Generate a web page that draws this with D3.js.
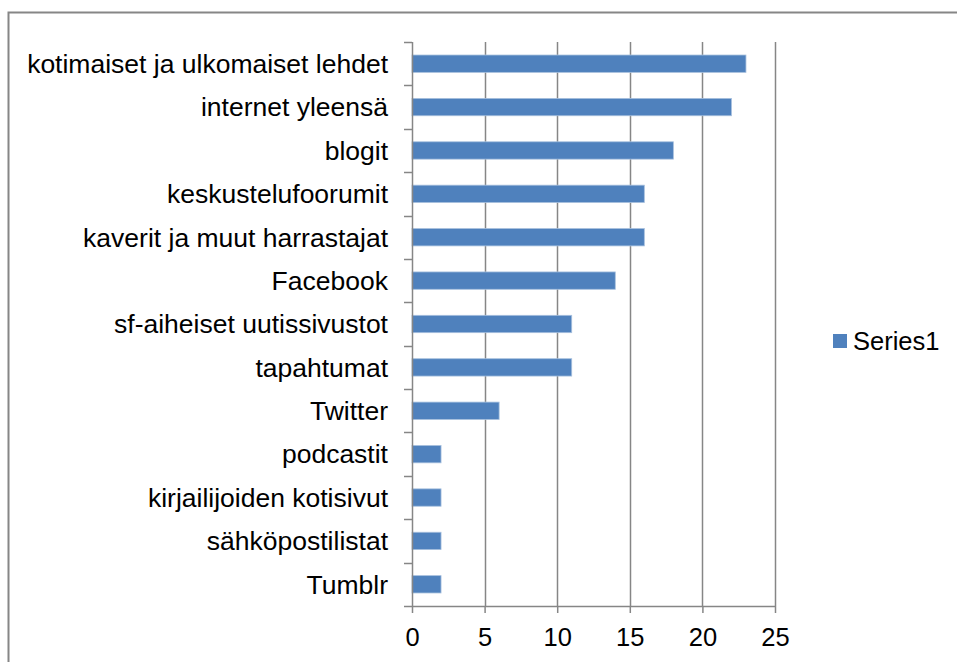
<!DOCTYPE html>
<html>
<head>
<meta charset="utf-8">
<script src="https://cdn.jsdelivr.net/npm/d3@7"></script>
<style>
  body { margin: 0; background: #fff; }
  svg text { font-family: "Liberation Sans", Arial, sans-serif; fill: #000; }
</style>
</head>
<body>
<div id="chart"></div>
<script>
// Categories from top to bottom, as in the chart
var categories = [
    "kotimaiset ja ulkomaiset lehdet",
    "internet yleensä",
    "blogit",
    "keskustelufoorumit",
    "kaverit ja muut harrastajat",
    "Facebook",
    "sf-aiheiset uutissivustot",
    "tapahtumat",
    "Twitter",
    "podcastit",
    "kirjailijoiden kotisivut",
    "sähköpostilistat",
    "Tumblr"
];
var values = [23, 22, 18, 16, 16, 14, 11, 11, 6, 2, 2, 2, 2];
var xTicks = [0, 5, 10, 15, 20, 25];
var seriesName = "Series1";

var width  = 957;
var height = 662;
var margin = { top: 42, right: 182, bottom: 56, left: 412 };
var labelSize = 26.5;
var tickSize = 25.5;

var svg = d3.select("div#chart")
            .append("svg")
            .attr("width", width)
            .attr("height", height);

// chart frame (only top and left edges show in the picture)
svg.append("rect")
   .attr("x", 8.5).attr("y", 12.5)
   .attr("width", width + 10).attr("height", height + 10)
   .attr("fill", "none")
   .attr("stroke", "#868686")
   .attr("stroke-width", 2);

var x = d3.scaleLinear()
          .domain([0, 25])
          .range([margin.left, width - margin.right]);

var y = d3.scaleBand()
          .domain(categories)
          .range([margin.top, height - margin.bottom])
          .padding(0);

// Vertical gridlines
svg.append("g")
   .attr("class", "grid")
   .selectAll("line")
   .data(xTicks.slice(1))
   .enter()
   .append("line")
   .attr("x1", function(d) { return Math.round(x(d)) + 0.5; })
   .attr("x2", function(d) { return Math.round(x(d)) + 0.5; })
   .attr("y1", margin.top)
   .attr("y2", height - margin.bottom)
   .attr("stroke", "#868686")
   .attr("stroke-width", 1.5);

// Bars
var barH = y.bandwidth() * 0.4;
svg.append("g")
   .attr("class", "bars")
   .selectAll("rect")
   .data(values)
   .enter()
   .append("rect")
   .attr("x", x(0))
   .attr("y", function(d, i) { return y(categories[i]) + (y.bandwidth() - barH) / 2; })
   .attr("width", function(d) { return x(d) - x(0); })
   .attr("height", barH)
   .attr("fill", "#4F81BD")
   .attr("stroke", "#A7C0DE")
   .attr("stroke-width", 0.8);

// X axis
var xAxis = svg.append("g")
   .attr("transform", "translate(0," + (height - margin.bottom) + ")")
   .call(d3.axisBottom(x).tickValues(xTicks).tickSize(7).tickPadding(15).tickSizeOuter(0));

// Y axis: ticks sit on band edges, labels centred in bands
var yEdges = categories.map(function(c) { return y(c); }).concat([height - margin.bottom]);
var yAxis = svg.append("g").attr("class", "yaxis");
yAxis.append("line")
     .attr("x1", margin.left + 0.5).attr("x2", margin.left + 0.5)
     .attr("y1", margin.top).attr("y2", height - margin.bottom);
yAxis.selectAll("line.tick")
     .data(yEdges)
     .enter()
     .append("line")
     .attr("class", "tick")
     .attr("x1", margin.left - 8).attr("x2", margin.left)
     .attr("y1", function(d) { return Math.round(d) + 0.5; })
     .attr("y2", function(d) { return Math.round(d) + 0.5; });
yAxis.selectAll("line").attr("stroke", "#868686").attr("stroke-width", 1.5);
yAxis.selectAll("text")
     .data(categories)
     .enter()
     .append("text")
     .attr("x", margin.left - 24)
     .attr("y", function(d) { return y(d) + y.bandwidth() / 2; })
     .attr("dy", "0.35em")
     .attr("text-anchor", "end")
     .style("font-size", labelSize + "px")
     .text(function(d) { return d; });

xAxis.select(".domain").attr("stroke", "#868686").attr("stroke-width", 1.5);
xAxis.selectAll(".tick line").attr("stroke", "#868686").attr("stroke-width", 1.5);
xAxis.selectAll(".tick text")
     .style("font-size", tickSize + "px")
     .attr("fill", "#000")
     .style("font-family", "'Liberation Sans', Arial, sans-serif");

// Legend
var legend = svg.append("g")
   .attr("transform", "translate(833,341)");
legend.append("rect")
   .attr("x", 0).attr("y", -7)
   .attr("width", 14).attr("height", 14)
   .attr("fill", "#4F81BD");
legend.append("text")
   .attr("x", 20)
   .attr("dy", "0.35em")
   .style("font-size", tickSize + "px")
   .text(seriesName);
</script>
</body>
</html>
